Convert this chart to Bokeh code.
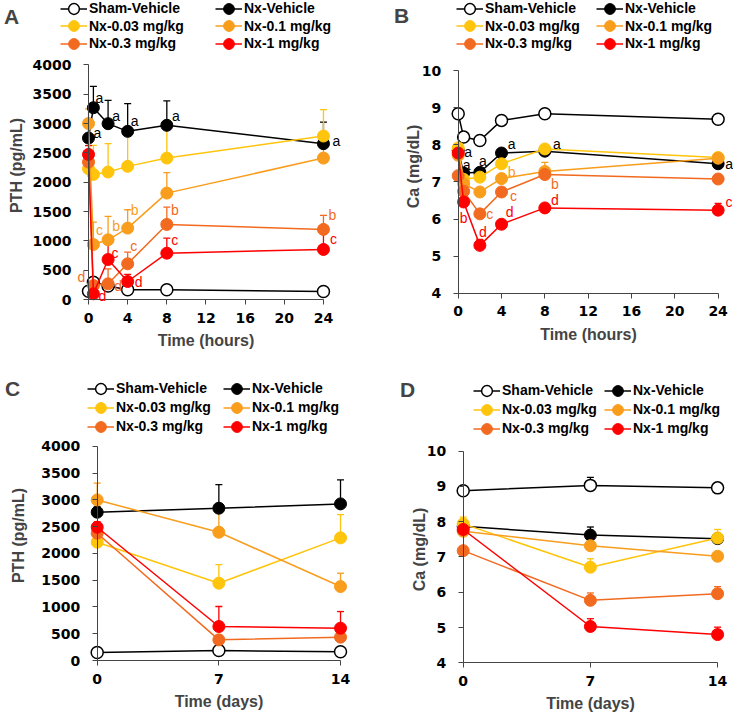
import math
from bokeh.plotting import figure
from bokeh.models import (Range1d, FixedTicker, Legend, LegendItem, Whisker, TeeHead,
                          ColumnDataSource, LabelSet, Label)
from bokeh.layouts import row, column
from bokeh.embed import file_html
from bokeh.resources import INLINE
from bokeh.core.properties import value

# ---------------- data ----------------
SERIES = ["Sham-Vehicle", "Nx-Vehicle", "Nx-0.03 mg/kg", "Nx-0.1 mg/kg", "Nx-0.3 mg/kg", "Nx-1 mg/kg"]
COLORS = ["#000000", "#000000", "#FFC40C", "#F99D1C", "#F26A1F", "#FF0000"]
HOLLOW = [True, False, False, False, False, False]

hours = [0, 0.5, 2, 4, 8, 24]
days = [0, 7, 14]
hour_ticks = [0, 4, 8, 12, 16, 20, 24]
day_ticks = [0, 7, 14]
pth_ticks = [0, 500, 1000, 1500, 2000, 2500, 3000, 3500, 4000]
ca_ticks = [4, 5, 6, 7, 8, 9, 10]

# Panel A: PTH (pg/mL) over hours
pthA_sham = [142, 295, 230, 165, 165, 137]
pthA_veh = [2753, 3270, 2998, 2867, 2970, 2657]
pthA_003 = [2230, 2133, 2173, 2270, 2411, 2787]
pthA_01 = [3000, 938, 1018, 1217, 1814, 2411]
pthA_03 = [2343, 239, 267, 609, 1280, 1195]
pthA_1 = [2474, 97, 682, 307, 790, 853]
pthA_sham_err = [30, 40, 30, 30, 30, 30]
pthA_veh_err = [200, 365, 397, 473, 415, 368]
pthA_003_err = [150, 495, 484, 580, 560, 450]
pthA_01_err = [250, 382, 398, 313, 348, 300]
pthA_03_err = [150, 60, 256, 198, 295, 238]
pthA_1_err = [150, 40, 268, 120, 256, 300]

# Panel B: Ca (mg/dL) over hours
caB_sham = [8.84, 8.21, 8.12, 8.66, 8.84, 8.69]
caB_veh = [7.85, 7.24, 7.26, 7.78, 7.83, 7.49]
caB_003 = [7.92, 7.07, 7.13, 7.49, 7.89, 7.66]
caB_01 = [7.72, 6.95, 6.73, 7.09, 7.28, 7.64]
caB_03 = [7.17, 6.75, 6.14, 6.73, 7.20, 7.08]
caB_1 = [7.78, 6.46, 5.29, 5.86, 6.30, 6.24]
caB_sham_err = [0.08, 0.05, 0.05, 0.05, 0.05, 0.05]
caB_veh_err = [0.08, 0.05, 0.08, 0.10, 0.05, 0.05]
caB_003_err = [0.08, 0.05, 0.05, 0.05, 0.05, 0.05]
caB_01_err = [0.08, 0.05, 0.05, 0.10, 0.25, 0.05]
caB_03_err = [0.08, 0.05, 0.05, 0.05, 0.10, 0.05]
caB_1_err = [0.08, 0.05, 0.16, 0.05, 0.05, 0.18]

# Panel C: PTH (pg/mL) over days
pthC_sham = [150, 187, 162]
pthC_veh = [2771, 2846, 2927]
pthC_003 = [2211, 1445, 2292]
pthC_01 = [3001, 2397, 1382]
pthC_03 = [2379, 386, 436]
pthC_1 = [2491, 635, 604]
pthC_sham_err = [30, 30, 30]
pthC_veh_err = [100, 442, 448]
pthC_003_err = [100, 348, 435]
pthC_01_err = [312, 400, 249]
pthC_03_err = [100, 60, 60]
pthC_1_err = [100, 374, 311]

# Panel D: Ca (mg/dL) over days
caD_sham = [8.88, 9.03, 8.96]
caD_veh = [7.87, 7.62, 7.52]
caD_003 = [7.94, 6.71, 7.54]
caD_01 = [7.73, 7.32, 7.02]
caD_03 = [7.18, 5.77, 5.96]
caD_1 = [7.78, 5.03, 4.80]
caD_sham_err = [0.05, 0.23, 0.05]
caD_veh_err = [0.05, 0.23, 0.10]
caD_003_err = [0.19, 0.24, 0.24]
caD_01_err = [0.10, 0.10, 0.10]
caD_03_err = [0.10, 0.21, 0.20]
caD_1_err = [0.10, 0.22, 0.21]

# significance letters: (series index, time index, letter)
lettersA = [(1, 0, "a"), (1, 1, "a"), (1, 2, "a"), (1, 3, "a"), (1, 4, "a"), (1, 5, "a"),
            (3, 1, "c"), (3, 2, "b"), (3, 3, "b"),
            (4, 1, "d"), (4, 2, "d"), (4, 3, "c"), (4, 4, "b"), (4, 5, "b"),
            (5, 1, "d"), (5, 2, "c"), (5, 3, "d"), (5, 4, "c"), (5, 5, "c")]
lettersB = [(1, 0, "a"), (1, 1, "a"), (1, 2, "a"), (1, 3, "a"), (1, 4, "a"), (1, 5, "a"),
            (3, 3, "b"),
            (4, 2, "c"), (4, 3, "c"), (4, 4, "b"),
            (5, 1, "b"), (5, 2, "d"), (5, 3, "d"), (5, 4, "d"), (5, 5, "c")]

# ---------------- layout / style (pixels) ----------------
# letter offsets in screen px (dx right, dy up)
offsA = [(9, 5), (6, 10), (8, 8), (7, 10), (9, 9), (13, 3),
         (6, 14), (8, 14), (7, 18),
         (-12, 8), (10, -2), (6, 18), (8, 14), (9, 14),
         (9, -2), (7, 7), (11, -1), (8, 13), (10, 10)]
offsB = [(10, -2), (3, 8), (3, 11), (10, 9), (12, 7), (11, 0),
         (10, 7),
         (10, 0), (12, -4), (10, -9),
         (0, -16), (3, 13), (8, 12), (10, 8), (11, 8)]

# picture-pixel geometry of each panel: figure box, data-origin pixel, px per data unit
LAYOUT = {
    "A": dict(win_left=0, win_top=0, W=366, H=357, x0=88.0, y0=299.0, ybase=0,
              kx=9.79, ky=0.05865,
              leg_cols=(60, 215), leg_rows=(8, 25.5, 43),
              letter_pos=(11, 16), ytitle_pos=(16, 165)),
    "B": dict(win_left=366, win_top=0, W=367, H=357, x0=457.7, y0=292.7, ybase=4,
              kx=10.83, ky=37.08,
              leg_cols=(456, 596), leg_rows=(8, 25.5, 43),
              letter_pos=(401, 15), ytitle_pos=(413, 166)),
    "C": dict(win_left=0, win_top=357, W=366, H=357, x0=96.7, y0=660.0, ybase=0,
              kx=17.38, ky=0.05351,
              leg_cols=(87, 223), leg_rows=(388, 407, 426),
              letter_pos=(12, 388), ytitle_pos=(18, 535)),
    "D": dict(win_left=366, win_top=357, W=367, H=357, x0=462.7, y0=662.3, ybase=4,
              kx=18.17, ky=35.27,
              leg_cols=(473, 604), leg_rows=(390, 409, 428),
              letter_pos=(407, 389), ytitle_pos=(419, 549)),
}
AXIS_COLOR = "#444444"
LBL_FONT = "Liberation Sans"
TICK_FONT = "DejaVu Sans"


def make_panel(key, xs, vals_list, errs_list, xticks, yticks, xbounds, ybounds,
               x_title, y_title, letters=None, offs=None):
    L = LAYOUT[key]
    W, H = L["W"], L["H"]
    # frame covers the whole figure; ranges map data to the wanted picture pixels
    x_start = 0 - (L["x0"] - L["win_left"]) / L["kx"]
    x_end = x_start + W / L["kx"]
    fig_bottom = L["win_top"] + H
    y_start = L["ybase"] - (fig_bottom - L["y0"]) / L["ky"]
    y_end = y_start + H / L["ky"]

    def sx(xw):
        return xw - L["win_left"]

    def sy(yw):
        return fig_bottom - yw

    p = figure(frame_width=W, frame_height=H,
               min_border_left=0, min_border_top=0, min_border_right=0, min_border_bottom=0,
               x_range=Range1d(x_start, x_end), y_range=Range1d(y_start, y_end),
               output_backend="svg", toolbar_location=None)
    p.title.visible = False
    p.outline_line_color = None
    p.xgrid.visible = False
    p.ygrid.visible = False
    p.background_fill_color = "white"
    p.border_fill_color = "white"

    for ax in (p.xaxis[0], p.yaxis[0]):
        ax.axis_line_color = AXIS_COLOR
        ax.axis_line_width = 1
        ax.major_tick_line_color = AXIS_COLOR
        ax.major_tick_in = 0
        ax.major_tick_out = 5
        ax.minor_tick_line_color = None
        ax.major_label_text_font = TICK_FONT
        ax.major_label_text_font_style = "bold"
        ax.major_label_text_font_size = "14px"
        ax.major_label_text_color = "black"
    xa = p.xaxis[0]
    xa.ticker = FixedTicker(ticks=xticks)
    xa.bounds = xbounds
    xa.fixed_location = ybounds[0]
    xa.major_label_standoff = 8
    xa.axis_label = x_title
    xa.axis_label_text_font = LBL_FONT
    xa.axis_label_text_font_style = "bold"
    xa.axis_label_text_font_size = "16px"
    xa.axis_label_standoff = 6
    ya = p.yaxis[0]
    ya.ticker = FixedTicker(ticks=yticks)
    ya.bounds = ybounds
    ya.fixed_location = xbounds[0]
    ya.major_label_standoff = 12

    rends = []
    for i, (vals, errs) in enumerate(zip(vals_list, errs_list)):
        color = COLORS[i]
        src = ColumnDataSource(dict(x=xs, y=vals, top=[v + e for v, e in zip(vals, errs)]))
        w = Whisker(source=src, base="x", lower="y", upper="top", dimension="height",
                    line_color=color, line_width=1.3,
                    upper_head=TeeHead(size=7, line_color=color, line_width=1.3),
                    lower_head=None, level="underlay")
        p.add_layout(w)
        lr = p.line("x", "y", source=src, line_color=color, line_width=1.5)
        sr = p.scatter("x", "y", source=src, size=12, marker="circle",
                       fill_color="white" if HOLLOW[i] else color,
                       line_color=color, line_width=1.5 if HOLLOW[i] else 1)
        rends.append([lr, sr])

    # legend: 3 rows x 2 columns, one single-item legend per entry
    gh = 29
    order = [[0, 1], [2, 3], [4, 5]]
    for r, yc in enumerate(L["leg_rows"]):
        for c, col_x in enumerate(L["leg_cols"]):
            i = order[r][c]
            lg = Legend(items=[LegendItem(label=SERIES[i], renderers=rends[i])],
                        location=(sx(col_x), sy(yc + gh / 2)),
                        orientation="vertical", glyph_width=27, glyph_height=gh,
                        label_height=gh, label_standoff=2, spacing=0, padding=0, margin=0,
                        border_line_color=None, background_fill_alpha=0,
                        label_text_font=LBL_FONT, label_text_font_style="bold",
                        label_text_font_size="14px", label_text_color="black")
            p.add_layout(lg)

    # panel letter
    cx, cy = L["letter_pos"]
    p.add_layout(Label(x=sx(cx), y=sy(cy), x_units="screen", y_units="screen",
                       text=key, text_font=LBL_FONT, text_font_style="bold",
                       text_font_size="21px", text_align="center", text_baseline="middle"))
    # y axis title
    tx, ty = L["ytitle_pos"]
    p.add_layout(Label(x=sx(tx), y=sy(ty), x_units="screen", y_units="screen",
                       text=y_title, angle=math.pi / 2, text_font=LBL_FONT, text_font_style="bold",
                       text_font_size="16px", text_align="center", text_baseline="middle"))

    if letters:
        lx, ly, lt, dx, dy, lc = [], [], [], [], [], []
        for (si, ti, let), (ox, oy) in zip(letters, offs):
            lx.append(xs[ti]); ly.append(vals_list[si][ti]); lt.append(let)
            dx.append(ox); dy.append(oy); lc.append(COLORS[si])
        lsrc = ColumnDataSource(dict(x=lx, y=ly, text=lt, dx=dx, dy=dy, clr=lc))
        p.add_layout(LabelSet(source=lsrc, x="x", y="y", text="text", x_offset="dx", y_offset="dy",
                              text_color="clr", text_font=value(LBL_FONT),
                              text_font_size=value("14px"), text_align="center",
                              text_baseline="middle"))
    return p


pA = make_panel("A", hours,
                [pthA_sham, pthA_veh, pthA_003, pthA_01, pthA_03, pthA_1],
                [pthA_sham_err, pthA_veh_err, pthA_003_err, pthA_01_err, pthA_03_err, pthA_1_err],
                hour_ticks, pth_ticks, (0, 24), (0, 4000), "Time (hours)", "PTH (pg/mL)",
                lettersA, offsA)
pB = make_panel("B", hours,
                [caB_sham, caB_veh, caB_003, caB_01, caB_03, caB_1],
                [caB_sham_err, caB_veh_err, caB_003_err, caB_01_err, caB_03_err, caB_1_err],
                hour_ticks, ca_ticks, (0, 24), (4, 10), "Time (hours)", "Ca (mg/dL)",
                lettersB, offsB)
pC = make_panel("C", days,
                [pthC_sham, pthC_veh, pthC_003, pthC_01, pthC_03, pthC_1],
                [pthC_sham_err, pthC_veh_err, pthC_003_err, pthC_01_err, pthC_03_err, pthC_1_err],
                day_ticks, pth_ticks, (0, 14), (0, 4000), "Time (days)", "PTH (pg/mL)")
pD = make_panel("D", days,
                [caD_sham, caD_veh, caD_003, caD_01, caD_03, caD_1],
                [caD_sham_err, caD_veh_err, caD_003_err, caD_01_err, caD_03_err, caD_1_err],
                day_ticks, ca_ticks, (0, 14), (4, 10), "Time (days)", "Ca (mg/dL)")

layout = column(row(pA, pB), row(pC, pD))
open("out.html", "w").write(file_html(layout, INLINE))
